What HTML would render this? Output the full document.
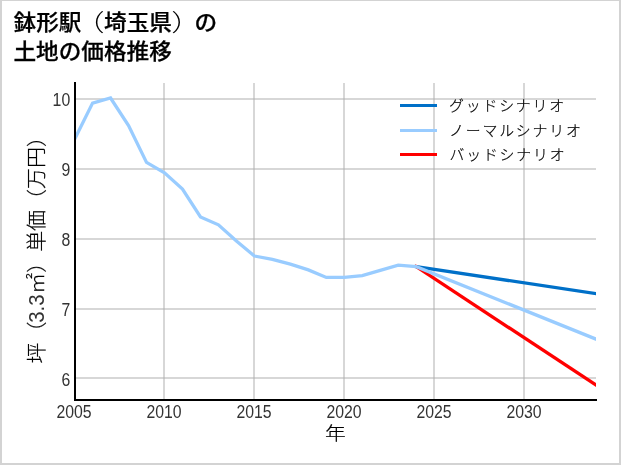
<!DOCTYPE html>
<html lang="ja">
<head>
<meta charset="utf-8">
<title>鉢形駅（埼玉県）の土地の価格推移</title>
<style>
html,body{margin:0;padding:0;background:#fff;}
body{width:621px;height:465px;overflow:hidden;}
svg{display:block;}
text{font-family:"Liberation Sans","Noto Sans CJK JP",sans-serif;fill:#000;}
.tt{font-weight:500;stroke:#000;stroke-width:0.25px;}
.pr{font-weight:300;stroke:none;}
.lg,.xl,.yl{font-weight:300;stroke:#000;stroke-width:0.2px;}
.dg{font-weight:400;fill:#333;stroke:none;}
</style>
</head>
<body>
<svg width="621" height="465" viewBox="0 0 621 465">
<rect x="0" y="0" width="621" height="465" fill="#fff"/>
<rect x="0" y="0" width="621" height="1" fill="#d3d3d3"/>
<rect x="0" y="0" width="2" height="465" fill="#d3d3d3"/>
<rect x="619" y="0" width="2" height="465" fill="#d3d3d3"/>
<rect x="0" y="463" width="621" height="2" fill="#d3d3d3"/>
<defs><clipPath id="cp"><rect x="75" y="83" width="521" height="317"/></clipPath></defs>
<g fill="#b0b0b0" fill-opacity="0.5">
<rect x="163" y="83" width="2" height="316"/>
<rect x="253" y="83" width="2" height="316"/>
<rect x="343" y="83" width="2" height="316"/>
<rect x="433" y="83" width="2" height="316"/>
<rect x="523" y="83" width="2" height="316"/>
<rect x="76" y="98" width="520" height="2"/>
<rect x="76" y="168" width="520" height="2"/>
<rect x="76" y="238" width="520" height="2"/>
<rect x="76" y="308" width="520" height="2"/>
<rect x="76" y="377" width="520" height="2"/>
</g>
<g clip-path="url(#cp)" fill="none" stroke-width="3.3" stroke-linejoin="miter" stroke-linecap="square">
<polyline stroke="#0070c8" points="416.21,266.60 596.00,293.70"/>
<polyline stroke="#ff0000" points="416.21,266.60 596.00,385.10"/>
<polyline stroke="#99ccff" points="74.60,139.30 92.58,103.10 110.56,98.00 128.54,125.50 146.52,162.40 164.50,172.80 182.48,189.00 200.46,216.90 218.43,224.80 236.41,241.00 254.39,256.00 272.37,259.30 290.35,264.20 308.33,269.90 326.31,277.40 344.29,277.40 362.27,275.60 380.25,270.40 398.23,265.10 416.21,266.60 596.00,339.10"/>
</g>
<rect x="74" y="82" width="2" height="319" fill="#000"/>
<rect x="74" y="399" width="523" height="2" fill="#000"/>
<rect x="400" y="104.0" width="37" height="3" fill="#0070c8"/>
<rect x="400" y="129.0" width="37" height="3" fill="#99ccff"/>
<rect x="400" y="153.0" width="37" height="3" fill="#ff0000"/>
<text class="lg" x="449.1" y="111.1" font-size="14.9" letter-spacing="1.8">グッドシナリオ</text>
<text class="lg" x="449.1" y="136.0" font-size="14.9" letter-spacing="1.8">ノーマルシナリオ</text>
<text class="lg" x="449.5" y="159.7" font-size="14.9" letter-spacing="1.8">バッドシナリオ</text>
<text class="dg" transform="translate(74,418) scale(0.865,1)" font-size="18.3" text-anchor="middle">2005</text>
<text class="dg" transform="translate(164,418) scale(0.865,1)" font-size="18.3" text-anchor="middle">2010</text>
<text class="dg" transform="translate(254,418) scale(0.865,1)" font-size="18.3" text-anchor="middle">2015</text>
<text class="dg" transform="translate(344,418) scale(0.865,1)" font-size="18.3" text-anchor="middle">2020</text>
<text class="dg" transform="translate(434,418) scale(0.865,1)" font-size="18.3" text-anchor="middle">2025</text>
<text class="dg" transform="translate(524,418) scale(0.865,1)" font-size="18.3" text-anchor="middle">2030</text>
<text class="dg" transform="translate(70.2,106.2) scale(0.865,1)" font-size="18.3" text-anchor="end">10</text>
<text class="dg" transform="translate(70.2,176.2) scale(0.865,1)" font-size="18.3" text-anchor="end">9</text>
<text class="dg" transform="translate(70.2,246.2) scale(0.865,1)" font-size="18.3" text-anchor="end">8</text>
<text class="dg" transform="translate(70.2,316.2) scale(0.865,1)" font-size="18.3" text-anchor="end">7</text>
<text class="dg" transform="translate(70.2,386.2) scale(0.865,1)" font-size="18.3" text-anchor="end">6</text>
<text class="xl" transform="translate(335.5,440.3) scale(1.1111,1)" font-size="18.72" text-anchor="middle">年</text>
<text class="yl" transform="translate(43.7,363.5) rotate(-90) scale(1.0309,1)" font-size="20.37">坪（<tspan class="dg" dx="-1.26" font-size="21.4" textLength="27.55" lengthAdjust="spacingAndGlyphs">3.3</tspan><tspan dx="0.58">㎡）単価（万円）</tspan></text>
<text class="tt" transform="translate(13.5,30.4) scale(1.0526,1)" font-size="21.52">鉢形駅<tspan class="pr" dx="-7.06" dy="0.6" font-size="23.6" textLength="29.15" lengthAdjust="spacingAndGlyphs">（</tspan><tspan dx="-0.57" dy="-0.6">埼玉県</tspan><tspan class="pr" dx="-0.57" dy="0.6" font-size="23.6" textLength="29.15" lengthAdjust="spacingAndGlyphs">）</tspan><tspan dx="-7.06" dy="-0.6">の</tspan></text>
<text class="tt" transform="translate(13.4,58.7) scale(1.0417,1)" font-size="21.74" text-anchor="start">土地の価格推移</text>
</svg>
</body>
</html>
